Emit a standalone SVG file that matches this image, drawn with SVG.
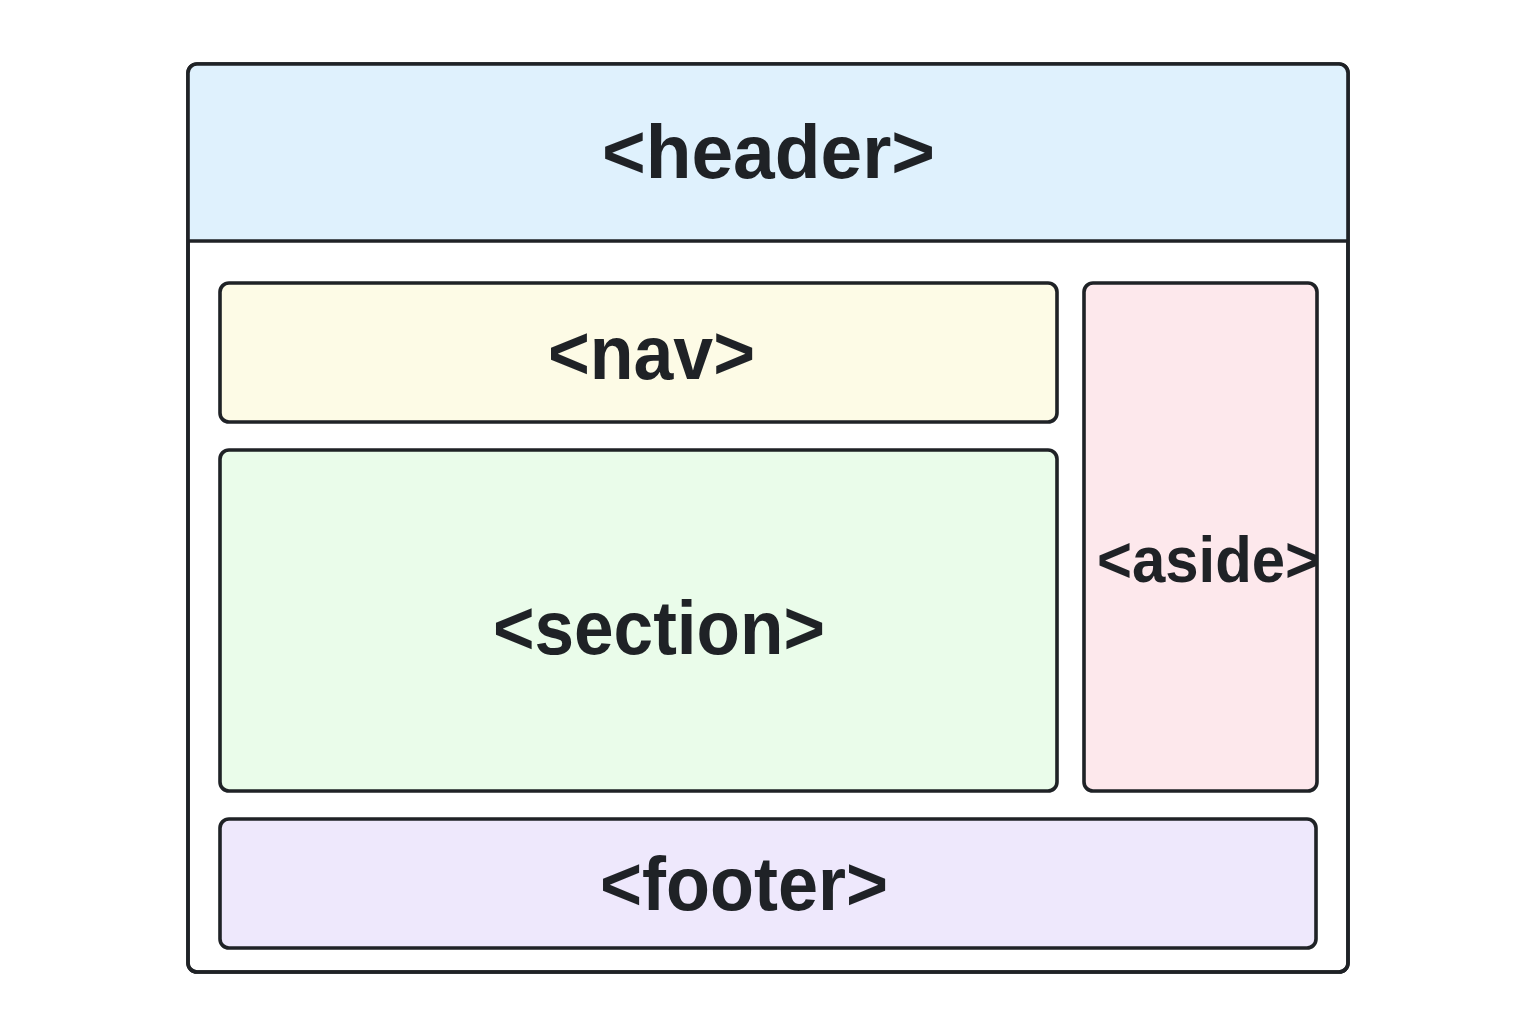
<svg xmlns="http://www.w3.org/2000/svg" width="1536" height="1024" viewBox="0 0 1536 1024">
<style>
.box{stroke:#1f2226;stroke-width:3.6}
.lbl{font-family:"Liberation Sans",Arial,sans-serif;font-weight:700;fill:#1f2226}
</style>
<rect width="1536" height="1024" fill="#ffffff"/>
<g id="page">
<rect x="188" y="64" width="1160" height="908" rx="9" fill="#ffffff" class="box"/>
</g>
<g id="header">
<path d="M188,241 L188,73 Q188,64 197,64 L1339,64 Q1348,64 1348,73 L1348,241 Z" fill="#dff1fd"/>
<line x1="188" y1="241" x2="1348" y2="241" class="box"/>
<rect x="188" y="64" width="1160" height="908" rx="9" fill="none" class="box"/>
<text x="602" y="178" class="lbl" font-size="76" textLength="333" lengthAdjust="spacingAndGlyphs">&lt;header&gt;</text>
</g>
<g id="nav">
<rect x="220" y="283" width="837" height="139" rx="9" fill="#fdfbe6" class="box"/>
<text x="548" y="379" class="lbl" font-size="76" textLength="207" lengthAdjust="spacingAndGlyphs">&lt;nav&gt;</text>
</g>
<g id="section">
<rect x="220" y="450" width="837" height="341" rx="9" fill="#eafcea" class="box"/>
<text x="493" y="654" class="lbl" font-size="76" textLength="332" lengthAdjust="spacingAndGlyphs">&lt;section&gt;</text>
</g>
<g id="aside">
<rect x="1084" y="283" width="233" height="508" rx="9" fill="#fde8ec" class="box"/>
<text x="1097" y="582" class="lbl" font-size="64" textLength="223" lengthAdjust="spacingAndGlyphs">&lt;aside&gt;</text>
</g>
<g id="footer">
<rect x="220" y="819" width="1096" height="129" rx="9" fill="#eee8fc" class="box"/>
<text x="600" y="910" class="lbl" font-size="76" textLength="288" lengthAdjust="spacingAndGlyphs">&lt;footer&gt;</text>
</g>
<g id="connectors"></g>
</svg>
